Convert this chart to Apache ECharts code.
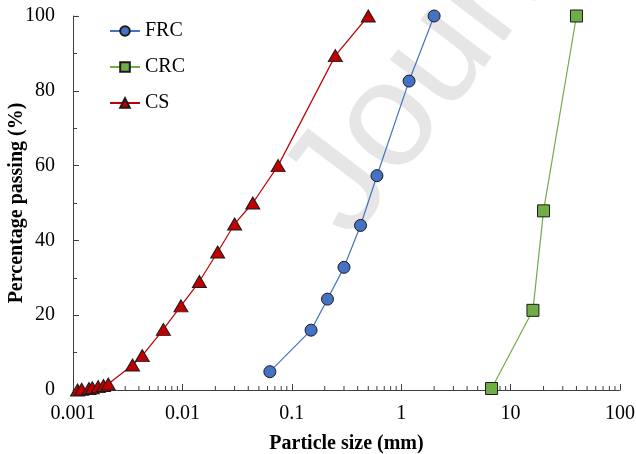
<!DOCTYPE html>
<html>
<head>
<meta charset="utf-8">
<script src="https://cdn.jsdelivr.net/npm/echarts@6/dist/echarts.min.js"></script>
<style>
  html, body { margin: 0; padding: 0; background: #fff; }
  #chart { width: 636px; height: 454px; }
</style>
</head>
<body>
<div id="chart"></div>
<script>
// Particle size distribution (grading curves)
var frcSize = [0.063, 0.15, 0.212, 0.3, 0.425, 0.6, 1.18, 2.0];
var frcPass = [4.9, 16.0, 24.3, 32.8, 44.0, 57.3, 82.6, 100];

var crcSize = [6.7, 16, 20, 40];
var crcPass = [0.4, 21.3, 47.9, 100];

var csSize = [0.0011, 0.0012, 0.0014, 0.0015, 0.0017, 0.0019, 0.0021, 0.0035, 0.0043,
              0.0067, 0.0097, 0.0143, 0.021, 0.030, 0.044, 0.075, 0.25, 0.5];
var csPass = [0, 0.2, 0.4, 0.6, 0.9, 1.2, 1.6, 6.7, 9.2,
              16.2, 22.5, 29.0, 36.9, 44.4, 50.0, 60.0, 89.4, 100];

var xTickLabels = ['0.001', '0.01', '0.1', '1', '10', '100'];
var yTickLabels = ['0', '20', '40', '60', '80', '100'];

// minor tick positions on the log axis: 2..9 within each decade
var minorMultipliers = [2, 3, 4, 5, 6, 7, 8, 9];
var decades = [0.001, 0.01, 0.1, 1, 10];

function pairs(xs, ys) {
  return xs.map(function (x, i) { return [x, ys[i]]; });
}

var minorTicks = [];
decades.forEach(function (d) {
  minorMultipliers.forEach(function (m) { minorTicks.push([+(d * m).toPrecision(6), 0]); });
});

var serif = '"Liberation Serif", "Times New Roman", serif';
var axisColor = '#404040';

var chart = echarts.init(document.getElementById('chart'), null, { renderer: 'canvas' });

chart.setOption({
  animation: false,
  backgroundColor: '#ffffff',
  grid: { left: 73, right: 16, top: 16, bottom: 64, containLabel: false, outerBoundsMode: 'none' },
  graphic: [{
    type: 'text',
    z: -10,
    silent: true,
    x: 378,
    y: 262,
    rotation: 0.92,
    style: {
      text: 'Journal Pre-proof',
      font: '150px "Liberation Sans", Arial, sans-serif',
      fill: '#e6e6e6',
      textAlign: 'left',
      textVerticalAlign: 'bottom'
    }
  }],
  legend: {
    orient: 'vertical',
    left: 104,
    top: 16,
    itemWidth: 30,
    itemHeight: 12,
    itemGap: 16,
    textStyle: { fontFamily: serif, fontSize: 20, color: '#000' },
    data: ['FRC', 'CRC', 'CS']
  },
  xAxis: {
    type: 'log',
    logBase: 10,
    min: 0.001,
    max: 100,
    name: 'Particle size (mm)',
    nameLocation: 'middle',
    nameGap: 44,
    nameTextStyle: { fontFamily: serif, fontSize: 20, fontWeight: 'bold', color: '#000' },
    axisLine: { lineStyle: { color: axisColor, width: 1 } },
    axisTick: { inside: true, length: 6, lineStyle: { color: axisColor } },
    axisLabel: {
      fontFamily: serif, fontSize: 20, color: '#000', margin: 14,
      formatter: function (v) {
        var k = Math.round(Math.log10(v)) + 3;
        return xTickLabels[k] !== undefined ? xTickLabels[k] : '';
      }
    },
    splitLine: { show: false }
  },
  yAxis: {
    type: 'value',
    min: 0,
    max: 100,
    interval: 20,
    name: 'Percentage passing (%)',
    nameLocation: 'middle',
    nameGap: 46,
    nameMoveOverlap: false,
    nameTextStyle: { fontFamily: serif, fontSize: 20, fontWeight: 'bold', color: '#000' },
    axisLine: { show: true, lineStyle: { color: axisColor, width: 1 } },
    axisTick: { show: true, inside: true, length: 6, lineStyle: { color: axisColor } },
    minorTick: { show: true, splitNumber: 2, length: 4, lineStyle: { color: axisColor } },
    axisLabel: {
      fontFamily: serif, fontSize: 20, color: '#000', margin: 18,
      formatter: function (v) { return yTickLabels[Math.round(v / 20)]; }
    },
    splitLine: { show: false }
  },
  series: [
    {
      name: 'minor',
      type: 'custom',
      silent: true,
      clip: false,
      z: 1,
      data: minorTicks,
      encode: { x: 0, y: 1 },
      renderItem: function (params, api) {
        var p = api.coord([api.value(0), api.value(1)]);
        return {
          type: 'line',
          shape: { x1: p[0], y1: p[1], x2: p[0], y2: p[1] - 4 },
          style: { stroke: axisColor, lineWidth: 1 }
        };
      }
    },
    {
      name: 'FRC',
      type: 'line',
      data: pairs(frcSize, frcPass),
      symbol: 'circle',
      symbolSize: 12,
      lineStyle: { color: '#4472C4', width: 1.2 },
      itemStyle: { color: '#4472C4', borderColor: '#1a1a1a', borderWidth: 1 },
      z: 3
    },
    {
      name: 'CRC',
      type: 'line',
      data: pairs(crcSize, crcPass),
      symbol: 'rect',
      symbolSize: 12,
      lineStyle: { color: '#70AD47', width: 1.2 },
      itemStyle: { color: '#70AD47', borderColor: '#1a1a1a', borderWidth: 1 },
      z: 3
    },
    {
      name: 'CS',
      type: 'line',
      data: pairs(csSize, csPass),
      symbol: 'triangle',
      symbolSize: [14, 12],
      lineStyle: { color: '#C00000', width: 1.2 },
      itemStyle: { color: '#C00000', borderColor: '#1a1a1a', borderWidth: 1 },
      z: 3
    }
  ]
});
</script>
</body>
</html>
